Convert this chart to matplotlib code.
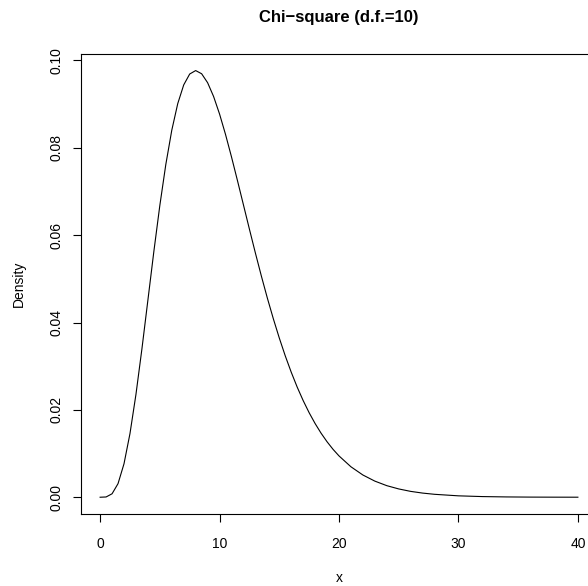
import matplotlib
matplotlib.use("Agg")
import matplotlib.pyplot as plt

# density values
x_vals = [0, 0.5, 1, 1.5, 2, 2.5, 3, 3.5, 4, 4.5, 5, 5.5, 6, 6.5, 7, 7.5, 8,
          8.5, 9, 9.5, 10, 10.5, 11, 11.5, 12, 12.5, 13, 13.5, 14, 14.5, 15,
          15.5, 16, 16.5, 17, 17.5, 18, 18.5, 19, 19.5, 20, 21, 22, 23, 24,
          25, 26, 27, 28, 30, 32, 34, 36, 38, 40]
density = [0.0, 0.00006, 0.00079, 0.00311, 0.00766, 0.01457, 0.02353, 0.03396,
           0.04511, 0.05628, 0.06680, 0.07617, 0.08402, 0.09012, 0.09440,
           0.09689, 0.09768, 0.09695, 0.09490, 0.09175, 0.08773, 0.08305,
           0.07791, 0.07248, 0.06693, 0.06137, 0.05591, 0.05064, 0.04561,
           0.04088, 0.03646, 0.03237, 0.02863, 0.02521, 0.02213, 0.01935,
           0.01687, 0.01466, 0.01270, 0.01097, 0.00946, 0.00697, 0.00509,
           0.00369, 0.00265, 0.00190, 0.00134, 0.00095, 0.00067, 0.00032,
           0.00015, 0.00007, 0.00003, 0.000015, 0.000007]

x_ticks = [0, 10, 20, 30, 40]
y_ticks = [0.00, 0.02, 0.04, 0.06, 0.08, 0.10]
y_tick_labels = ["0.00", "0.02", "0.04", "0.06", "0.08", "0.10"]

plt.rcParams['font.family'] = ['Liberation Sans', 'DejaVu Sans']

W, H = 588, 586
fig = plt.figure(figsize=(W / 100, H / 100), dpi=100)
left, right, top, bottom = 81, 597, 53.5, 514.3
ax = fig.add_axes([left / W, (H - bottom) / H, (right - left) / W, (bottom - top) / H])

ax.plot(x_vals, density, color="black", linewidth=0.8)

ymax = max(density)
ax.set_xlim(-0.04 * 40, 40 * 1.04)
ax.set_ylim(-0.04 * ymax, ymax * 1.04)

ax.set_xticks(x_ticks)
ax.set_xticklabels([str(t) for t in x_ticks])
ax.set_yticks(y_ticks)
ax.set_yticklabels(y_tick_labels, rotation=90, va="center")
ax.tick_params(axis="both", length=5.5, width=0.8, labelsize=10, color="black")
ax.tick_params(axis="x", pad=11)
ax.tick_params(axis="y", pad=7)
for sp in ax.spines.values():
    sp.set_linewidth(0.8)

# x label sits centred under the plot region, baseline near the bottom edge
ax.set_xlabel("x", fontsize=10, va="baseline")
ax.xaxis.set_label_coords(0.5, -(582 - bottom) / (bottom - top))
ax.set_ylabel("Density", fontsize=10, labelpad=17)
ax.set_title("Chi\u2212square (d.f.=10)", fontsize=12, fontweight="bold", pad=23)

fig.savefig("out.png", dpi=100)
